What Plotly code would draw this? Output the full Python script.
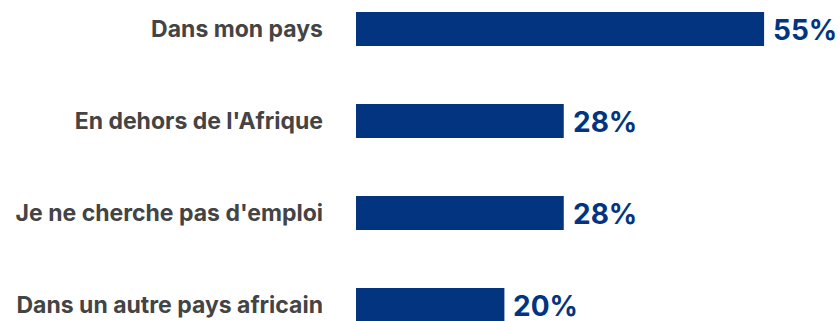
import plotly.graph_objects as go

# Survey responses: where respondents are looking for work
categories = ["Dans mon pays", "En dehors de l'Afrique", "Je ne cherche pas d'emploi", "Dans un autre pays africain"]
values = [55, 28, 28, 20]
value_labels = ["55%", "28%", "28%", "20%"]

BAR_COLOR = "#03347f"
LABEL_COLOR = "#444444"

W, H = 840, 321
left = 356
px_per_unit = 7.42
row_px = 92

y_pos = list(range(len(categories)))
y_top = -29 / row_px
y_bottom = y_top + H / row_px

fig = go.Figure()
fig.add_trace(go.Bar(
    x=values,
    y=y_pos,
    orientation="h",
    width=34 / row_px,
    marker=dict(color=BAR_COLOR, line=dict(width=0)),
    hoverinfo="skip",
))

for v, yy, t in zip(values, y_pos, value_labels):
    fig.add_annotation(
        x=v, y=yy, text=f"<b>{t}</b>", showarrow=False,
        xanchor="left", yanchor="middle", xshift=7, yshift=-1,
        font=dict(family="Inter", size=28, color=BAR_COLOR),
    )

fig.update_layout(
    width=W, height=H,
    margin=dict(l=left, r=0, t=0, b=0),
    paper_bgcolor="white", plot_bgcolor="white",
    showlegend=False,
    xaxis=dict(range=[0, (W - left) / px_per_unit], visible=False, fixedrange=True),
    yaxis=dict(
        range=[y_bottom, y_top],
        tickmode="array", tickvals=y_pos,
        ticktext=[f"<b>{c}</b>" for c in categories],
        tickfont=dict(family="Inter", size=23, color=LABEL_COLOR),
        ticks="", showgrid=False, zeroline=False, showline=False,
        ticklabelstandoff=32,
    ),
)

fig.write_html("out.html")
